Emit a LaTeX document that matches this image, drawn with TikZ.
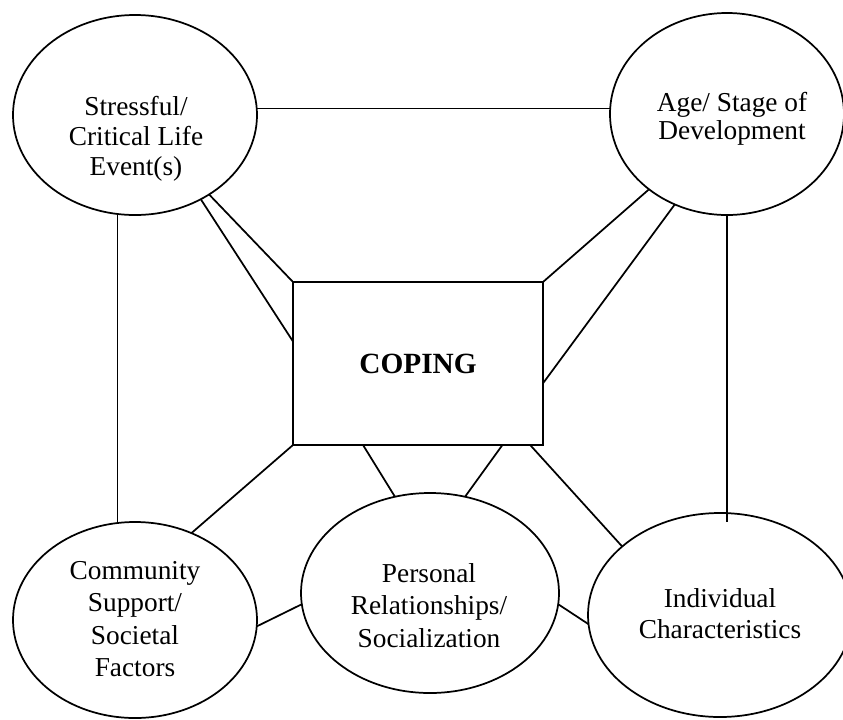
\documentclass[tikz,border=0pt]{standalone}
\usepackage{fontspec}
\setmainfont{Liberation Serif}
\usetikzlibrary{shapes.geometric}
\begin{document}
\begin{tikzpicture}[x=0.75pt,y=-0.75pt,
  oval/.style={draw, ellipse, line width=1.3pt, inner sep=0pt, outer sep=0pt},
  box/.style={draw, rectangle, line width=1.3pt, inner sep=0pt, outer sep=0pt,
              font=\bfseries\fontsize{22pt}{26pt}\selectfont},
  lbl/.style={font=\fontsize{20.5pt}{#1}\selectfont, align=center, inner sep=0pt},
  link/.style={line width=1.3pt}]
\useasboundingbox (0,0) rectangle (843,719);
\clip (0,0) rectangle (843,719);

% shapes
\node[oval, minimum width=183pt, minimum height=150pt] (tl) at (135,115) {};
\node[oval, minimum width=175.5pt, minimum height=151.5pt] (tr) at (727,114) {};
\node[oval, minimum width=183pt, minimum height=147pt] (bl) at (135,620) {};
\node[oval, minimum width=193.5pt, minimum height=150pt] (mid) at (430,593) {};
\node[oval, minimum width=198pt, minimum height=153pt] (br) at (720,615) {};
\node[box, minimum width=187.5pt, minimum height=122.25pt] (cope) at (418,363.5) {COPING};

% labels
\node[lbl=22.5pt] (tlt) at (136,139) {Stressful/\\Critical Life\\Event(s)};
\node[lbl=21pt] (trt) at (732,118.5) {Age/ Stage of\\Development};
\node[lbl=24.2pt] (blt) at (135,619) {Community\\Support/\\Societal\\Factors};
\node[lbl=24.4pt] (midt) at (429,605.5) {Personal\\Relationships/\\Socialization};
\node[lbl=23.3pt] (brt) at (720,613.5) {Individual\\Characteristics};

% connectors
\draw[link] (tl.3) -- (tl.3 -| tr.west);
\draw[link] (tl.-100.3) -- (tl.-100.3 |- bl.north);
\draw[link, shorten >=-6.75pt] (tr.south) -- (tr.south |- br.north);
\draw[link] (tl.-47) -- (cope.north west);
\draw[link] (tl.-52.5) -- (cope.170.2);
\draw[link] (tr.-136.1) -- (cope.north east);
\draw[link] (tr.-120.6) -- (cope.-9.8);
\draw[link] (bl.57.7) -- (cope.south west);
\draw[link] (bl.-3.75) -- (mid.185.3);
\draw[link] (cope.-124.5) -- (mid.110.3);
\draw[link] (cope.-44.1) -- (mid.70.2);
\draw[link] (mid.-5.4) -- (br.184.3);
\draw[link] (cope.-36.8) -- (br.145.6);
\end{tikzpicture}
\end{document}
